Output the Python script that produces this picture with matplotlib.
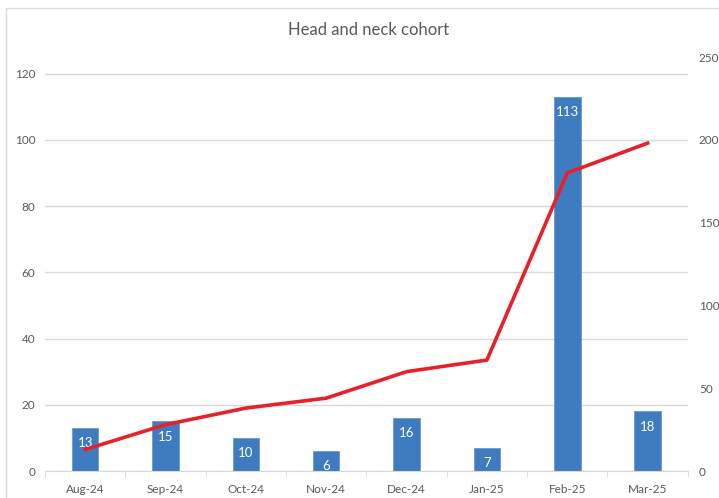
import matplotlib.pyplot as plt
import numpy as np
from matplotlib.patches import Rectangle

months = ['Aug-24', 'Sep-24', 'Oct-24', 'Nov-24', 'Dec-24', 'Jan-25', 'Feb-25', 'Mar-25']
monthly = [13, 15, 10, 6, 16, 7, 113, 18]
running_total = [13, 28, 38, 44, 60, 67, 180, 198]

plt.rcParams['font.family'] = ['Lato', 'DejaVu Sans']
grey = '#595959'

fig = plt.figure(figsize=(7.19, 4.98), dpi=100)
# chart frame: only the top and left edges fall inside the image
fig.patches.append(Rectangle((0.009, -0.05), 1.1, 1.034, transform=fig.transFigure,
                             fill=False, edgecolor='#d9d9d9', linewidth=1))

ax = fig.add_axes([0.0626, 0.0542, 0.894, 0.8313])
x = np.arange(len(months))

ax.bar(x, monthly, width=0.33, color='#3f7cbf', edgecolor='#6a9ad3', linewidth=0.6, zorder=2)
for xi, v in zip(x, monthly):
    ax.annotate(str(v), (xi, v), xytext=(0, -11), textcoords='offset points',
                ha='center', va='center', color='white', fontsize=9.5)

ax.set_xlim(-0.5, len(months) - 0.5)
ax.set_ylim(0, 125)
ax.set_yticks(range(0, 121, 20))
ax.yaxis.grid(True, color='#d9d9d9', linewidth=1)
ax.set_axisbelow(True)
for s in ['top', 'right', 'left']:
    ax.spines[s].set_visible(False)
ax.spines['bottom'].set_color('#d9d9d9')
ax.set_xticks(x)
ax.set_xticklabels(months)
ax.set_xticks(np.arange(-0.5, len(months)), minor=True)
ax.tick_params(axis='x', which='major', length=0, pad=9, labelsize=8.5, labelcolor=grey)
ax.tick_params(axis='x', which='minor', length=4, color='#d9d9d9')
ax.tick_params(axis='y', length=0, pad=7, labelsize=8.5, labelcolor=grey)

ax2 = ax.twinx()
ax2.plot(x, running_total, color='#e8202a', linewidth=2.6, zorder=3)
ax2.set_ylim(0, 250)
ax2.set_yticks(range(0, 251, 50))
for s in ax2.spines.values():
    s.set_visible(False)
ax2.tick_params(axis='y', length=0, pad=8, labelsize=8.5, labelcolor=grey)

fig.text(0.513, 0.94, 'Head and neck cohort', ha='center', va='center', fontsize=12, color=grey)

fig.savefig('out.png', dpi=100)
